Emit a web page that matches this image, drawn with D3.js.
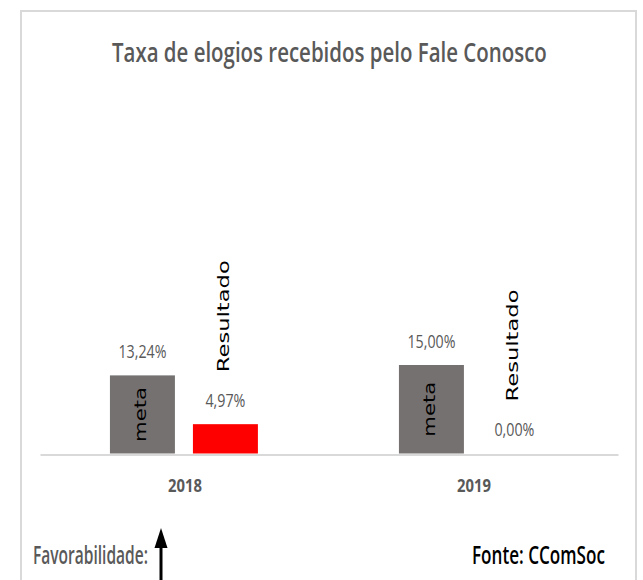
<!DOCTYPE html>
<html>
<head>
<meta charset="utf-8">
<script src="https://cdn.jsdelivr.net/npm/d3@7"></script>
<style>
  body { margin: 0; background: #fff; }
  svg { display: block; }
</style>
</head>
<body>
<div id="vis"></div>
<script>
const WIDTH = 643;
const HEIGHT = 580;

// data
const years = ["2018", "2019"];
const series = ["meta", "Resultado"];
const metaValues = [13.24, 15.00];
const resultadoValues = [4.97, 0.00];
const seriesColors = ["#767171", "#ff0000"];

const svg = d3.select("#vis")
  .append("svg")
  .attr("width", WIDTH)
  .attr("height", HEIGHT);

// squeeze a text horizontally so it spans w px (the source uses a narrow font)
function squeeze(sel, x, y, w) {
  sel.attr("x", 0).attr("y", 0);
  const len = sel.node().getComputedTextLength();
  sel.attr("transform", "translate(" + x + "," + y + ") scale(" + (w / len) + ",1)");
  return sel;
}

// chart frame
svg.append("rect")
  .attr("x", 21).attr("y", 11)
  .attr("width", 615).attr("height", 620)
  .attr("fill", "none")
  .attr("stroke", "#d9d9d9")
  .attr("stroke-width", 2);

squeeze(svg.append("text")
  .attr("font-family", "Open Sans")
  .attr("font-weight", 600)
  .attr("font-size", 27)
  .attr("fill", "#595959")
  .text("Taxa de elogios recebidos pelo Fale Conosco"), 112, 62, 435);

const X = d3.scaleBand().domain(years).range([40, 618]);
const XS = d3.scaleBand().domain(series)
  .range([X.bandwidth() * 0.242, X.bandwidth() * 0.754])
  .paddingInner(0.217);
const Y = d3.scaleLinear().domain([0, 15]).range([453.5, 365]);

const rows = [];
years.forEach((yr, i) => {
  rows.push({year: yr, s: "meta", v: metaValues[i], c: seriesColors[0]});
  rows.push({year: yr, s: "Resultado", v: resultadoValues[i], c: seriesColors[1]});
});

const fmt = (v) => v.toFixed(2).replace(".", ",") + "%";

const g = svg.append("g");

g.selectAll("rect.bar")
  .data(rows)
  .enter()
  .append("rect")
    .attr("class", "bar")
    .attr("x", (d) => X(d.year) + XS(d.s))
    .attr("y", (d) => Y(d.v))
    .attr("width", XS.bandwidth())
    .attr("height", (d) => Y(0) - Y(d.v))
    .attr("fill", (d) => d.c);

// value labels
g.selectAll("text.val")
  .data(rows)
  .enter()
  .append("text")
    .attr("class", "val")
    .attr("text-anchor", "middle")
    .attr("font-family", "Open Sans")
    .attr("font-size", 18.5)
    .attr("fill", "#595959")
    .text((d) => fmt(d.v))
    .each(function (d) {
      squeeze(d3.select(this), X(d.year) + XS(d.s) + XS.bandwidth() / 2,
        Y(d.v) - 17.5, d.v >= 10 ? 48 : 40);
    });

// series names, rotated
g.selectAll("text.meta")
  .data(rows.filter((d) => d.s === "meta"))
  .enter()
  .append("text")
    .attr("class", "meta")
    .attr("transform", (d) => "translate(" + (X(d.year) + XS(d.s) + XS.bandwidth() / 2 + 4) +
      "," + ((Y(d.v) + Y(0)) / 2) + ") rotate(-90)")
    .attr("text-anchor", "middle")
    .attr("font-family", "DejaVu Sans")
    .attr("font-size", 16)
    .attr("fill", "#000")
    .attr("textLength", 55)
    .attr("lengthAdjust", "spacingAndGlyphs")
    .text("meta");

g.selectAll("text.res")
  .data(rows.filter((d) => d.s === "Resultado"))
  .enter()
  .append("text")
    .attr("class", "res")
    .attr("transform", (d) => "translate(" + (X(d.year) + XS(d.s) + XS.bandwidth() / 2 + 4) +
      "," + (Y(d.v) - 52) + ") rotate(-90)")
    .attr("font-family", "DejaVu Sans")
    .attr("font-size", 16)
    .attr("fill", "#000")
    .attr("textLength", 112)
    .attr("lengthAdjust", "spacingAndGlyphs")
    .text("Resultado");

// axis
const xAxis = svg.append("g")
  .attr("transform", "translate(0," + 454.5 + ")")
  .call(d3.axisBottom(X).tickSize(0).tickPadding(0));
xAxis.select(".domain").attr("stroke", "#d9d9d9").attr("stroke-width", 2);
xAxis.selectAll(".tick text")
  .attr("dy", 0)
  .attr("font-family", "Open Sans")
  .attr("font-weight", "bold")
  .attr("font-size", 17.5)
  .attr("fill", "#595959")
  .each(function () {
    squeeze(d3.select(this), 0.5, 37.5, 34);
  });

// footer
squeeze(svg.append("text")
  .attr("font-family", "Open Sans")
  .attr("font-weight", 600)
  .attr("font-size", 26)
  .attr("fill", "#595959")
  .text("Favorabilidade:"), 33, 564, 115);

svg.append("line")
  .attr("x1", 161).attr("x2", 161)
  .attr("y1", 590).attr("y2", 545)
  .attr("stroke", "#000").attr("stroke-width", 3);
svg.append("path")
  .attr("d", "M154.5,548 L167.5,548 L161,528 Z")
  .attr("fill", "#000");

squeeze(svg.append("text")
  .attr("font-family", "Open Sans")
  .attr("font-weight", 600)
  .attr("font-size", 26)
  .attr("fill", "#000")
  .text("Fonte: CComSoc"), 472, 564, 133);
</script>
</body>
</html>
